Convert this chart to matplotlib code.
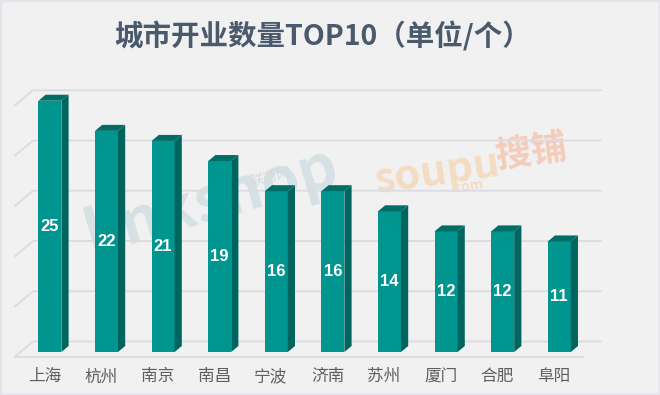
import matplotlib.pyplot as plt
from matplotlib.patches import Polygon, Rectangle
import numpy as np

plt.rcParams['font.family'] = ['Noto Sans CJK SC', 'DejaVu Sans']

# data
cities = ['上海', '杭州', '南京', '南昌', '宁波', '济南', '苏州', '厦门', '合肥', '阜阳']
counts = [25, 22, 21, 19, 16, 16, 14, 12, 12, 11]
grid_values = [0, 5, 10, 15, 20, 25]

FRONT = '#00968f'
SIDE = '#00655e'
TOP = '#006d66'
GRID = '#dcdce3'
BG = '#f1f1f2'

# pseudo-3d geometry (data units)
px_x = 56.6    # pixels per category
px_y = 10.05   # pixels per unit of value
depth = np.array([18 / px_x, 15 / px_y])   # full floor depth
bar_w = 23 / px_x
d0, d1 = 0.3, 0.7                          # bar position inside the depth
x_left, x_right = -0.52, len(cities) - 1 + 0.51

fig = plt.figure(figsize=(6.6, 3.95), dpi=100, facecolor=BG)
ax = fig.add_axes([10 / 660, 35 / 395, 610 / 660, 300 / 395])
ax.set_xlim(-0.6095, 10.168)
ax.set_ylim(-0.348, 29.5)
ax.set_facecolor('none')

# watermarks (faint)
ax.text(2.95, 15.5, 'linkshop', fontsize=44, fontweight='bold', color='#d5e1e4',
        rotation=16, ha='center', va='center', zorder=0)
ax.text(4.0, 17.9, '联商网', fontsize=10, color='#d3dbe0', rotation=14,
        ha='center', va='center', zorder=0)
ax.text(6.95, 18.3, 'soupu', fontsize=30, fontweight='bold', color='#f5dcc2',
        rotation=8, ha='center', va='center', zorder=0)
ax.text(7.45, 16.9, '.com', fontsize=10, fontweight='bold', color='#f5dcc2',
        rotation=8, ha='center', va='center', zorder=0)
ax.text(8.6, 20.3, '搜铺', fontsize=26, fontweight='bold', color='#f4cdb9',
        rotation=8, ha='center', va='center', zorder=0)

# back wall grid + floor
for v in grid_values:
    ax.plot([x_left, x_left + depth[0], x_right + depth[0]],
            [v, v + depth[1], v + depth[1]],
            color=GRID, lw=1.4, zorder=1, clip_on=False)
ax.plot([x_left, x_right], [0, 0], color=GRID, lw=1.4, zorder=1, clip_on=False)

# bars
x = np.arange(len(cities))
ox, oy = depth * d0
dx, dy = depth * (d1 - d0)
ax.bar(x + ox, counts, width=bar_w, bottom=oy, color=FRONT, zorder=3)
for xi, v in zip(x, counts):
    xl, xr = xi + ox - bar_w / 2, xi + ox + bar_w / 2
    side = [(xr, oy), (xr + dx, oy + dy), (xr + dx, oy + dy + v), (xr, oy + v)]
    top = [(xl, oy + v), (xr, oy + v), (xr + dx, oy + v + dy), (xl + dx, oy + v + dy)]
    ax.add_patch(Polygon(side, closed=True, color=SIDE, lw=0, zorder=3))
    ax.add_patch(Polygon(top, closed=True, color=TOP, lw=0, zorder=3))
    ax.text(xi + ox, oy + v / 2, str(v), color='white', fontsize=12,
            fontweight='bold', family='Liberation Sans', ha='center', va='center', zorder=4)

ax.set_xticks(x, cities)
ax.tick_params(axis='x', length=0, pad=6, labelsize=12, labelcolor='#5f5f5f')
ax.set_yticks([])
for s in ax.spines.values():
    s.set_visible(False)

fig.text(323 / 660, 1 - 36 / 395, '城市开业数量TOP10（单位/个）', fontsize=20.5,
         fontweight='bold', color='#4a596b', ha='center', va='center')

fig.patches.append(Rectangle((0, 0), 1, 1, transform=fig.transFigure, fill=False,
                             edgecolor='#e3e3e9', lw=2.5))

plt.savefig('out.png', dpi=100, facecolor=BG)
